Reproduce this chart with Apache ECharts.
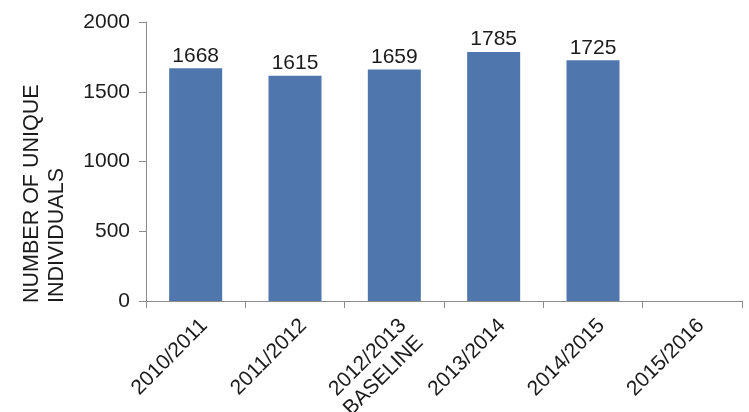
<!DOCTYPE html>
<html>
<head>
<meta charset="utf-8">
<script src="https://cdn.jsdelivr.net/npm/echarts@6/dist/echarts.min.js"></script>
<style>
  html, body { margin: 0; padding: 0; background: #fff; }
  #chart { width: 749px; height: 412px; }
</style>
</head>
<body>
<div id="chart"></div>
<script>
const categories = ["2010/2011", "2011/2012", "2012/2013\nBASELINE", "2013/2014", "2014/2015", "2015/2016"];
const values = [1668, 1615, 1659, 1785, 1725, null];
const yTitle = "NUMBER OF UNIQUE\nINDIVIDUALS";

const font = "'Liberation Sans', Arial, sans-serif";
const textColor = "#1c1a1b";
const axisColor = "#8c8c8c";

const chart = echarts.init(document.getElementById("chart"));

chart.setOption({
    animation: false,
    textStyle: { fontFamily: font },
    grid: {
        left: 146, right: 7, top: 22, bottom: 111,
        containLabel: false,
        outerBoundsMode: "none"
    },
    xAxis: {
        type: "category",
        data: categories,
        axisLine: { lineStyle: { color: axisColor, width: 1 } },
        axisTick: { show: true, length: 7, lineStyle: { color: axisColor } },
        axisLabel: {
            rotate: 45,
            fontSize: 21,
            color: textColor,
            fontFamily: font,
            margin: 13,
            interval: 0,
            lineHeight: 24,
            verticalAlign: "top"
        }
    },
    yAxis: {
        type: "value",
        min: 0,
        max: 2000,
        interval: 500,
        axisLine: { show: true, lineStyle: { color: axisColor, width: 1 } },
        axisTick: { show: true, length: 7, lineStyle: { color: axisColor } },
        splitLine: { show: false },
        axisLabel: {
            fontSize: 21,
            color: textColor,
            fontFamily: font,
            margin: 16,
            formatter: v => String(v)
        }
    },
    graphic: [{
        type: "text",
        x: 20,
        y: 303,
        rotation: Math.PI / 2,
        style: {
            text: yTitle,
            font: "21.5px " + font,
            fill: textColor,
            textAlign: "left",
            textVerticalAlign: "top",
            lineHeight: 25
        }
    }],
    series: [{
        type: "bar",
        data: values,
        barWidth: 53,
        itemStyle: { color: "#4f77ad" },
        label: {
            show: true,
            position: "top",
            distance: 2,
            fontSize: 21,
            color: textColor,
            fontFamily: font
        }
    }]
});
</script>
</body>
</html>
